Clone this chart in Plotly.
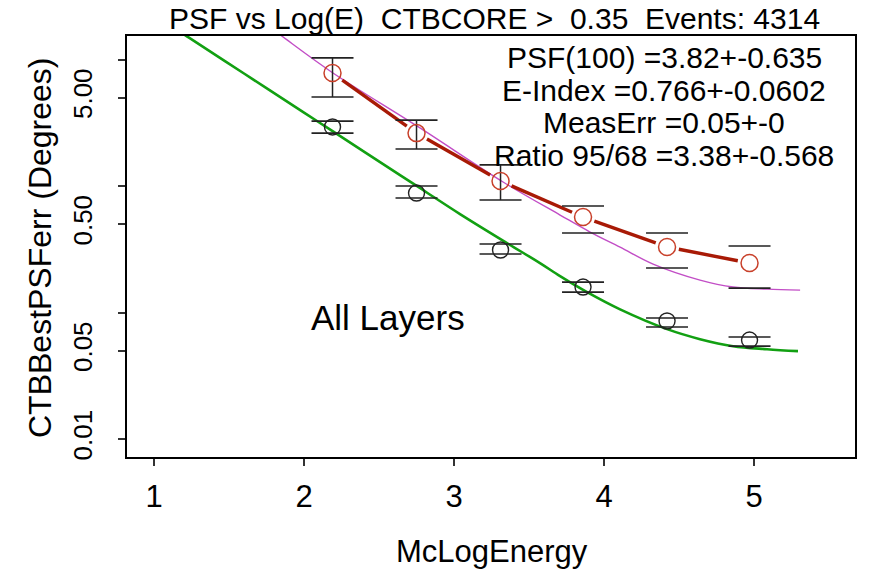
import numpy as np
import plotly.graph_objects as go

# McLogEnergy bin centres
bin_x = [2.19, 2.75, 3.31, 3.86, 4.42, 4.97]

# 95% containment per bin (red) with upper / lower uncertainty
psf95 = [7.82, 2.62, 1.095, 0.569, 0.330, 0.246]
psf95_hi = [10.3, 3.32, 1.47, 0.695, 0.425, 0.336]
psf95_lo = [5.05, 1.96, 0.775, 0.425, 0.225, 0.156]

# 68% containment per bin (black) with upper / lower uncertainty
psf68 = [2.93, 0.880, 0.312, 0.159, 0.0857, 0.0606]
psf68_hi = [3.26, 1.00, 0.348, 0.174, 0.0905, 0.0640]
psf68_lo = [2.62, 0.804, 0.290, 0.145, 0.0768, 0.0543]

# fitted 68% PSF curve (green)
fit68_x = [1.15, 1.233, 1.6, 2.0, 2.193, 2.64, 2.793, 3.04, 3.353, 3.573,
           3.707, 3.887, 4.107, 4.42, 4.64, 4.86, 5.087, 5.293]
fit68_y = [17.2, 14.9, 7.75, 3.81, 2.70, 1.22, 0.930, 0.600, 0.354, 0.246,
           0.194, 0.145, 0.106, 0.0739, 0.0616, 0.0542, 0.0513, 0.0495]

# fitted 95% PSF curve (magenta)
fit95_x = [1.813, 1.887, 2.193, 2.773, 3.327, 3.707, 3.907, 4.107, 4.327,
           4.64, 4.86, 5.087, 5.307]
fit95_y = [16.65, 14.29, 7.83, 2.88, 1.076, 0.590, 0.433, 0.329, 0.2415,
           0.1805, 0.159, 0.153, 0.1504]

# axis ticks
x_ticks = [1, 2, 3, 4, 5]
y_ticks = [0.01, 0.05, 0.1, 0.5, 1, 5, 10]
y_tick_text = ["0.01", "0.05", "", "0.50", "", "5.00", ""]

fit_lines = [
    "PSF(100) =3.82+-0.635",
    "E-Index =0.766+-0.0602",
    "MeasErr =0.05+-0",
    "Ratio 95/68 =3.38+-0.568",
]

W, H = 869, 575
ML, MR, MT, MB = 127, 14, 36, 118
PLOT_W, PLOT_H = W - ML - MR, H - MT - MB
X_RANGE = [0.82, 5.673]
Y_RANGE = [-2.142, 1.186]
FONT = "Liberation Sans, Arial, sans-serif"

# pixels per data unit, used to leave a gap round each red point
kx = PLOT_W / (X_RANGE[1] - X_RANGE[0])
ky = PLOT_H / (Y_RANGE[1] - Y_RANGE[0])
GAP = 12
seg_x, seg_y = [], []
for i in range(len(bin_x) - 1):
    x0, x1 = bin_x[i], bin_x[i + 1]
    l0, l1 = np.log10(psf95[i]), np.log10(psf95[i + 1])
    f = GAP / np.hypot((x1 - x0) * kx, (l1 - l0) * ky)
    seg_x += [x0 + f * (x1 - x0), x1 - f * (x1 - x0), None]
    seg_y += [10 ** (l0 + f * (l1 - l0)), 10 ** (l1 - f * (l1 - l0)), None]

# vertical stems for the first three 95% bins
stem_x, stem_y = [], []
for i in range(3):
    stem_x += [bin_x[i], bin_x[i], None]
    stem_y += [psf95_lo[i], psf95_hi[i], None]

fig = go.Figure()

fig.add_trace(go.Scatter(x=fit68_x, y=fit68_y, mode="lines",
                         line=dict(color="#12A012", width=2.6, shape="spline"),
                         hoverinfo="skip"))
fig.add_trace(go.Scatter(x=fit95_x, y=fit95_y, mode="lines",
                         line=dict(color="#C24EC6", width=1.4, shape="spline"),
                         hoverinfo="skip"))
fig.add_trace(go.Scatter(x=seg_x, y=seg_y, mode="lines",
                         line=dict(color="#A81A06", width=3.4),
                         hoverinfo="skip"))
fig.add_trace(go.Scatter(x=stem_x, y=stem_y, mode="lines",
                         line=dict(color="#222222", width=1.5),
                         hoverinfo="skip"))
fig.add_trace(go.Scatter(x=bin_x + bin_x, y=psf95_hi + psf95_lo, mode="markers",
                         marker=dict(symbol="line-ew", size=30, color="#222222",
                                     line=dict(color="#222222", width=1.6)),
                         hoverinfo="skip"))
fig.add_trace(go.Scatter(x=bin_x + bin_x, y=psf68_hi + psf68_lo, mode="markers",
                         marker=dict(symbol="line-ew", size=30, color="#222222",
                                     line=dict(color="#222222", width=1.6)),
                         hoverinfo="skip"))
fig.add_trace(go.Scatter(x=bin_x, y=psf68, mode="markers",
                         marker=dict(symbol="circle-open", size=16, color="#222222",
                                     line=dict(width=1.4)),
                         name="68%"))
fig.add_trace(go.Scatter(x=bin_x, y=psf95, mode="markers",
                         marker=dict(symbol="circle-open", size=17, color="#C8402A",
                                     line=dict(width=1.5)),
                         name="95%"))


def px_to_paper_x(px):
    return (px - ML) / PLOT_W


def px_to_paper_y(py):
    return (H - MB - py) / PLOT_H


annotations = []
# fit summary
for text, cy in zip(fit_lines, [57, 90, 122, 155]):
    annotations.append(dict(text=text, x=px_to_paper_x(664), y=px_to_paper_y(cy),
                            xref="paper", yref="paper", xanchor="center",
                            yanchor="middle", showarrow=False,
                            font=dict(family=FONT, size=30, color="black")))
annotations.append(dict(text="All Layers", x=px_to_paper_x(388), y=px_to_paper_y(317),
                        xref="paper", yref="paper", xanchor="center",
                        yanchor="middle", showarrow=False,
                        font=dict(family=FONT, size=35, color="black")))
annotations.append(dict(text="PSF vs Log(E)  CTBCORE &gt;  0.35  Events: 4314",
                        x=px_to_paper_x(494), y=px_to_paper_y(18),
                        xref="paper", yref="paper", xanchor="center",
                        yanchor="middle", showarrow=False,
                        font=dict(family=FONT, size=30, color="black")))
annotations.append(dict(text="McLogEnergy", x=px_to_paper_x(492), y=px_to_paper_y(551),
                        xref="paper", yref="paper", xanchor="center",
                        yanchor="middle", showarrow=False,
                        font=dict(family=FONT, size=31, color="black")))
annotations.append(dict(text="CTBBestPSFerr (Degrees)", x=px_to_paper_x(40),
                        y=px_to_paper_y(248), textangle=-90,
                        xref="paper", yref="paper", xanchor="center",
                        yanchor="middle", showarrow=False,
                        font=dict(family=FONT, size=32, color="black")))

fig.update_layout(
    width=W, height=H,
    margin=dict(l=ML, r=MR, t=MT, b=MB),
    paper_bgcolor="white", plot_bgcolor="white",
    showlegend=False,
    annotations=annotations,
    xaxis=dict(range=X_RANGE, tickvals=x_ticks, ticktext=[str(t) for t in x_ticks],
               showgrid=False, zeroline=False, showline=True, mirror=True,
               linecolor="black", linewidth=2, ticks="outside", ticklen=7,
               tickwidth=1.5, tickcolor="#333333", ticklabelstandoff=4,
               tickfont=dict(family=FONT, size=31, color="black")),
    yaxis=dict(type="log", range=Y_RANGE, tickvals=y_ticks, ticktext=y_tick_text,
               tickangle=-90, showgrid=False, zeroline=False, showline=True,
               mirror=True, linecolor="black", linewidth=2, ticks="outside",
               ticklen=7, tickwidth=1.5, tickcolor="#333333", ticklabelstandoff=16,
               tickfont=dict(family="Liberation Sans Narrow, Liberation Sans, Arial",
                             size=26, color="black")),
)

fig.write_html("out.html")
